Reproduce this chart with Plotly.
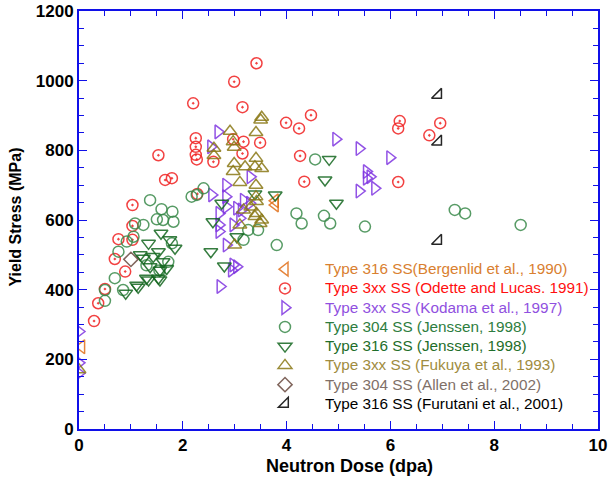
import plotly.graph_objects as go

# ---- data (dose in dpa, yield stress in MPa) ----
berg_x = [0.05, 3.78, 3.78]
berg_y = [236, 655, 643]

odette_x = [0.29, 0.37, 0.5, 0.69, 0.76, 0.89, 1.03, 1.03, 1.03, 1.53, 1.66, 1.79, 2.2, 2.25, 2.25, 2.25,
            2.27, 2.28, 2.59, 2.97, 2.99, 3.15, 3.15, 3.17, 3.42, 3.49, 3.99, 4.24, 4.26, 4.34, 4.47,
            6.15, 6.15, 6.18, 6.75, 6.96]
odette_y = [310, 361, 402, 488, 545, 452, 543, 583, 643, 786, 715, 720, 935, 835, 810, 787,
            774, 675, 767, 832, 997, 924, 791, 825, 1050, 822, 879, 863, 784, 710, 901,
            863, 709, 884, 843, 878]

kodama_x = [0, 0, 0, 2.54, 2.68, 2.56, 2.83, 2.83, 2.84, 2.7, 2.7, 2.7, 2.97, 2.84, 3.3, 3.29,
            3.13, 3.04, 2.97, 2.94, 2.72, 3.17, 3.1, 3.04, 4.95, 5.4, 5.99, 5.54, 5.54, 5.61, 5.4, 5.7]
kodama_y = [280, 190, 160, 810, 853, 672, 700, 667, 638, 619, 586, 567, 586, 528, 724, 648,
            629, 466, 471, 456, 409, 657, 605, 634, 832, 805, 779, 739, 720, 724, 683, 691]

j304_x = [0.5, 0.5, 0.69, 0.85, 0.76, 0.92, 1.05, 1.08, 1.24, 1.37, 1.5, 1.59, 1.62, 1.8, 1.82,
          1.72, 1.79, 1.3, 1.55, 2.17, 2.27, 2.4, 3.17, 3.26, 3.45, 3.81, 4.19, 4.29, 4.55, 4.72,
          4.84, 5.51, 7.24, 7.44, 8.51]
j304_y = [368, 399, 433, 399, 509, 538, 552, 590, 586, 657, 602, 631, 600, 624, 595,
          480, 533, 470, 455, 667, 672, 691, 543, 571, 571, 528, 619, 590, 774, 612,
          590, 581, 629, 619, 586]

j316_x = [0.9, 1.14, 1.11, 1.3, 1.34, 1.53, 1.56, 1.37, 1.56, 1.69, 1.62, 1.24, 1.43, 1.18, 1.53,
          1.34, 1.75, 1.85, 1.58, 2.54, 2.58, 2.75, 2.8, 3.04, 3.39, 3.78, 4.74, 4.82, 4.96]
j316_y = [390, 407, 413, 433, 428, 433, 428, 466, 456, 461, 480, 490, 495, 500, 509,
          533, 543, 519, 562, 509, 595, 648, 468, 552, 675, 672, 715, 774, 648]

fuk_x = [0, 2.6, 2.6, 2.91, 2.97, 2.99, 2.99, 2.97, 3.1, 3.1, 3.0, 3.17, 3.2, 3.31, 3.39, 3.39,
         3.41, 3.41, 3.41, 3.41, 3.42, 3.42, 3.49, 3.5, 3.52, 3.52, 3.52]
fuk_y = [170, 806, 785, 855, 825, 809, 762, 739, 708, 586, 528, 629, 753, 637, 610, 753,
         851, 777, 700, 667, 653, 619, 590, 887, 895, 748, 600]

allen_x = [1.0]
allen_y = [487]

furu_x = [6.92, 6.92, 6.92]
furu_y = [959, 825, 540]

names = [
    "Type 316 SS(Bergenlid et al., 1990)",
    "Type 3xx SS (Odette and Lucas. 1991)",
    "Type 3xx SS (Kodama et al., 1997)",
    "Type 304 SS (Jenssen, 1998)",
    "Type 316 SS (Jenssen, 1998)",
    "Type 3xx SS (Fukuya et al., 1993)",
    "Type 304 SS (Allen et al., 2002)",
    "Type 316 SS (Furutani et al., 2001)",
]

x_title = "Neutron Dose (dpa)"
y_title = "Yield Stress (MPa)"

series = [
    (berg_x, berg_y, "triangle-left-open", "#e0701a", "#d98030", 12),
    (odette_x, odette_y, "circle-open-dot", "#f02020", "#ff1010", 11),
    (kodama_x, kodama_y, "triangle-right-open", "#7f35e0", "#9050e0", 12),
    (j304_x, j304_y, "circle-open", "#3a8a4a", "#2e7d40", 11),
    (j316_x, j316_y, "triangle-down-open", "#13661f", "#1f6e2a", 12),
    (fuk_x, fuk_y, "triangle-up-open", "#8a7815", "#a08c40", 12),
    (allen_x, allen_y, "diamond-open", "#6a4a40", "#807068", 11),
    (furu_x, furu_y, "triangle-se-open", "#000000", "#000000", 11),
]

fig = go.Figure()
for (xs, ys, sym, mcol, tcol, size), name in zip(series, names):
    fig.add_trace(go.Scatter(
        x=xs, y=ys, mode="markers",
        name=f"<span style='color:{tcol};font-size:15.3px'>{name}</span>",
        marker=dict(symbol=sym, size=size, color=mcol, opacity=0.85,
                    line=dict(width=1.5, color=mcol)),
    ))

axis_blue = "#1010e8"
fam = "Liberation Sans, Arial"
tickfont = dict(family=fam, size=17, color="black")

W, H = 610, 480
ml, mr, mt, mb = 79, 12, 11, 51
plot_w = W - ml - mr
plot_h = H - mt - mb

fig.update_layout(
    width=W, height=H,
    margin=dict(l=ml, r=mr, t=mt, b=mb, autoexpand=False),
    plot_bgcolor="white", paper_bgcolor="white",
    showlegend=True,
    legend=dict(x=(245 - ml) / plot_w, y=(plot_h + mt - 254.5) / plot_h,
                xanchor="left", yanchor="top",
                bgcolor="rgba(0,0,0,0)", itemwidth=70,
                font=dict(family=fam, size=12.5),
                tracegroupgap=0),
    xaxis=dict(
        range=[0, 10], dtick=2, tick0=0, showgrid=False, zeroline=False, automargin=False,
        showline=True, linecolor=axis_blue, linewidth=2, mirror="allticks",
        ticks="inside", ticklen=8, tickcolor=axis_blue, tickwidth=1,
        minor=dict(dtick=0.5, ticks="inside", ticklen=5, tickcolor=axis_blue, showgrid=False),
        tickfont=tickfont,
        tickprefix="<b>", ticksuffix="</b>",
    ),
    yaxis=dict(
        range=[0, 1200], dtick=200, tick0=0, showgrid=False, zeroline=False, automargin=False,
        showline=True, linecolor=axis_blue, linewidth=2, mirror="allticks",
        ticks="inside", ticklen=8, tickcolor=axis_blue, tickwidth=1,
        minor=dict(dtick=50, ticks="inside", ticklen=5, tickcolor=axis_blue, showgrid=False),
        tickfont=tickfont,
        tickprefix="<b>", ticksuffix="</b>",
    ),
    annotations=[
        dict(text=f"<b>{x_title}</b>", xref="paper", yref="paper",
             x=(349 - ml) / plot_w, y=(plot_h + mt - 466) / plot_h,
             xanchor="center", yanchor="middle", showarrow=False,
             font=dict(family=fam, size=18, color="black")),
        dict(text=f"<b>{y_title}</b>", xref="paper", yref="paper", textangle=-90,
             x=(15 - ml) / plot_w, y=(plot_h + mt - 217.5) / plot_h,
             xanchor="center", yanchor="middle", showarrow=False,
             font=dict(family=fam, size=16, color="black")),
    ],
)

fig.write_html(
    "out.html",
    config={"displayModeBar": False},
    post_script="document.documentElement.style.margin='0';document.body.style.margin='0';"
                "document.body.style.overflow='hidden';",
)
